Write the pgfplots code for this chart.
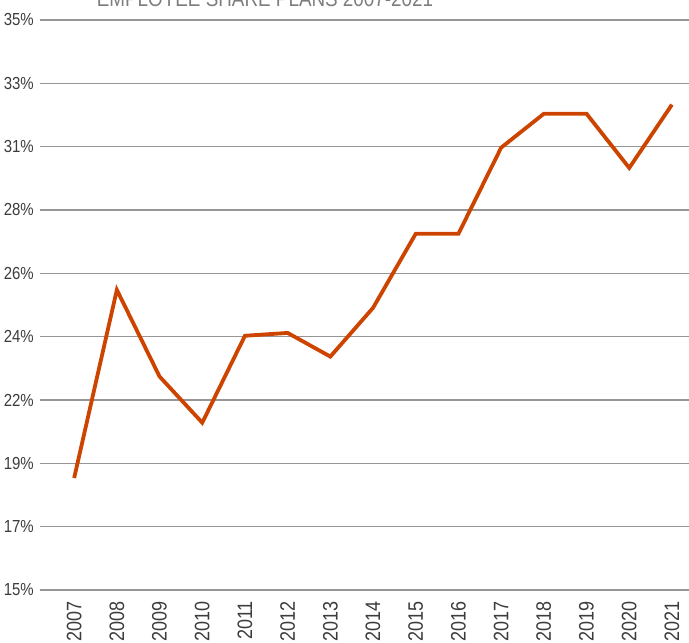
\documentclass[border=0pt]{standalone}
\usepackage{pgfplots}
\pgfplotsset{compat=1.18}
\usepackage{fontspec}
\setmainfont{Liberation Sans}[FakeStretch=0.86]
\definecolor{lineor}{RGB}{204,68,0}
\definecolor{gridg}{RGB}{150,150,150}
\definecolor{labg}{RGB}{60,60,60}
\definecolor{titg}{RGB}{125,125,125}
\begin{document}
\begin{tikzpicture}[x=1bp,y=1bp]
\useasboundingbox (0,0) rectangle (689,643);
\begin{axis}[
  at={(40bp,53bp)}, anchor=south west,
  scale only axis, width=649bp, height=570bp,
  xmin=2006.2, xmax=2021.4,
  ymin=15, ymax=35,
  axis line style={draw=none},
  ytick={15,17.2222,19.4444,21.6667,23.8889,26.1111,28.3333,30.5556,32.7778,35},
  yticklabels={15\%,17\%,19\%,22\%,24\%,26\%,28\%,31\%,33\%,35\%},
  xtick={2007,...,2021},
  xticklabels={2007,2008,2009,2010,2011,2012,2013,2014,2015,2016,2017,2018,2019,2020,2021},
  x tick label style={rotate=90, anchor=east, font=\fontsize{21}{21}\selectfont, text=labg, inner sep=0pt},
  y tick label style={font=\fontsize{17.5}{17.5}\selectfont, text=labg, inner sep=0pt},
  xticklabel shift=11bp, yticklabel shift=6bp,
  major tick length=0pt,
  ymajorgrids, grid style={draw=gridg, line width=1.3bp},
  clip=false,
]
\addplot[color=lineor, line width=3.8bp, line join=miter] coordinates {
(2007,18.93) (2008,25.53) (2009,22.49) (2010,20.87) (2011,23.92) (2012,24.02)
(2013,23.19) (2014,24.90) (2015,27.50) (2016,27.50) (2017,30.52) (2018,31.71)
(2019,31.71) (2020,29.81) (2021,32.03)};
\end{axis}
\node[anchor=base, text=titg, font=\fontsize{22}{22}\selectfont, inner sep=0pt] at (265,636) {EMPLOYEE SHARE PLANS 2007-2021};
\end{tikzpicture}
\end{document}
